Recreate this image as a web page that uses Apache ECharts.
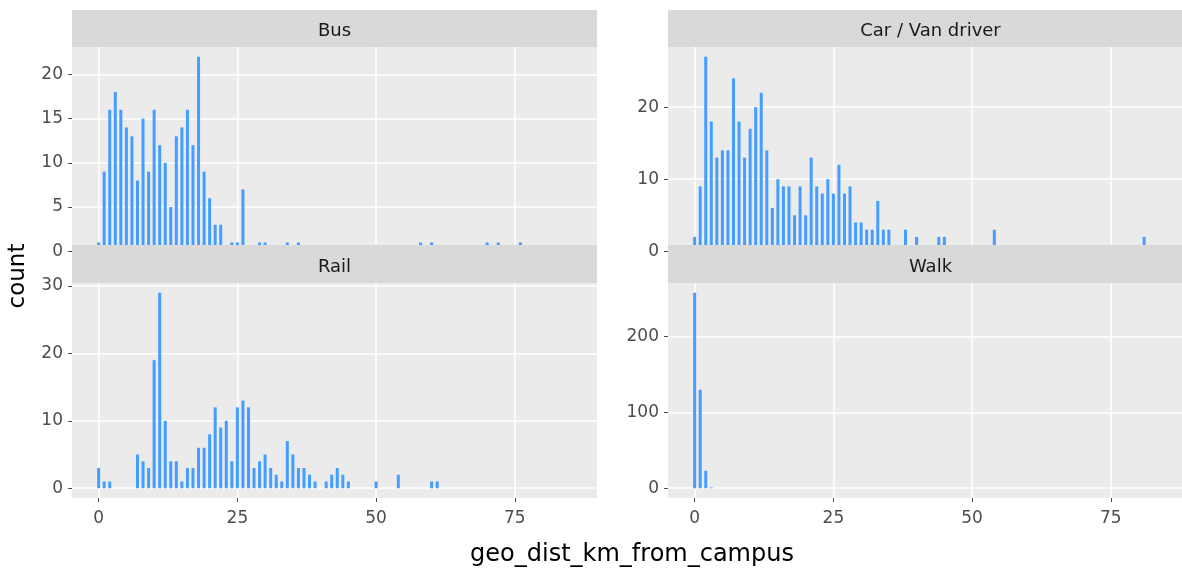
<!DOCTYPE html>
<html>
<head>
<meta charset="utf-8">
<script src="https://cdn.jsdelivr.net/npm/echarts@6/dist/echarts.min.js"></script>
<style>
  html, body { margin: 0; padding: 0; background: #fff; }
  #main { width: 1182px; height: 572px; }
</style>
</head>
<body>
<div id="main"></div>
<script>
// histogram of distance from campus, bin width 1 km, one panel per travel mode
const busBins   = [0,1,2,3,4,5,6,7,8,9,10,11,12,13,14,15,16,17,18,19,20,21,22,24,25,26,29,30,34,36,58,60,70,72,76];
const busCounts = [1,9,16,18,16,14,13,8,15,9,16,12,10,5,13,14,16,12,22,9,6,3,3,1,1,7,1,1,1,1,1,1,1,1,1];

const carBins   = [0,1,2,3,4,5,6,7,8,9,10,11,12,13,14,15,16,17,18,19,20,21,22,23,24,25,26,27,28,29,30,31,32,33,34,35,38,40,44,45,54,81];
const carCounts = [2,9,27,18,13,14,14,24,18,13,17,20,22,14,6,10,9,9,5,9,5,13,9,8,10,8,12,8,9,4,4,3,3,7,3,3,3,2,2,2,3,2];

const railBins   = [0,1,2,7,8,9,10,11,12,13,14,15,16,17,18,19,20,21,22,23,24,25,26,27,28,29,30,31,32,33,34,35,36,37,38,39,41,42,43,44,45,50,54,60,61];
const railCounts = [3,1,1,5,4,3,19,29,10,4,4,1,3,3,6,6,8,12,9,10,4,12,13,12,3,4,5,3,2,1,7,5,3,3,2,1,1,2,3,2,1,1,2,1,1];

const walkBins   = [0,1,2,3];
const walkCounts = [258,130,23,1];

const panelNames = ['Bus', 'Car / Van driver', 'Rail', 'Walk'];
const xTicks = [0, 25, 50, 75];
const busTicks = [0, 5, 10, 15, 20];
const carTicks = [0, 10, 20];
const railTicks = [0, 10, 20, 30];
const walkTicks = [0, 100, 200];

const panels = [
  { bins: busBins, counts: busCounts, ticks: busTicks },
  { bins: carBins, counts: carCounts, ticks: carTicks },
  { bins: railBins, counts: railCounts, ticks: railTicks },
  { bins: walkBins, counts: walkCounts, ticks: walkTicks }
];

const font = 'DejaVu Sans, Verdana, sans-serif';
const gridBoxes = [
  { left: 72,  top: 47,  width: 525, height: 214 },
  { left: 668, top: 47,  width: 525, height: 214 },
  { left: 72,  top: 283, width: 525, height: 215 },
  { left: 668, top: 283, width: 525, height: 215 }
];

const grid = [], xAxis = [], yAxis = [], series = [];
panels.forEach(function (p, i) {
  const g = gridBoxes[i];
  grid.push({
    left: g.left, top: g.top, width: g.width, height: g.height,
    show: true, backgroundColor: '#ebebeb', borderWidth: 0,
    containLabel: false, outerBoundsMode: 'none'
  });
  const bottomRow = i >= 2;
  xAxis.push({
    type: 'value', gridIndex: i, min: -4.8, max: 89.8,
    axisLine: { show: false, onZero: false },
    axisTick: { show: bottomRow, length: 4, customValues: xTicks, lineStyle: { color: '#4d4d4d' } },
    axisLabel: { show: bottomRow, customValues: xTicks, margin: 12, fontSize: 17, color: '#4d4d4d', fontFamily: font },
    splitLine: { show: true, lineStyle: { color: '#fff', width: 1.6 } }
  });
  const top = Math.max.apply(null, p.counts);
  yAxis.push({
    type: 'value', gridIndex: i, min: -top * 0.05, max: top * 1.05,
    axisLine: { show: false, onZero: false },
    axisTick: { show: true, length: 4, customValues: p.ticks, lineStyle: { color: '#4d4d4d' } },
    axisLabel: { customValues: p.ticks, margin: 9, fontSize: 17, color: '#4d4d4d', fontFamily: font },
    splitLine: { show: true, lineStyle: { color: '#fff', width: 1.6 } }
  });
  series.push({
    type: 'bar', xAxisIndex: i, yAxisIndex: i,
    barWidth: 3,
    itemStyle: { color: '#449eff' },
    data: p.bins.map(function (b, j) { return [b, p.counts[j]]; })
  });
});

// facet strips drawn over the panels
const graphic = [];
gridBoxes.forEach(function (g, i) {
  const stripTop = i < 2 ? 10 : 245;
  const stripH = i < 2 ? 37 : 38;
  graphic.push({
    type: 'rect', z: 100,
    shape: { x: g.left, y: stripTop, width: g.width, height: stripH },
    style: { fill: '#d9d9d9' }
  });
  graphic.push({
    type: 'text', z: 101,
    x: g.left + g.width / 2, y: stripTop + stripH / 2 + 3,
    style: {
      text: panelNames[i], fontSize: 18, fontFamily: font, fill: '#1a1a1a',
      textAlign: 'center', textVerticalAlign: 'middle'
    }
  });
});
graphic.push({
  type: 'text', z: 101, x: 632, y: 555,
  style: { text: 'geo_dist_km_from_campus', fontSize: 24, fontFamily: font, fill: '#000',
           textAlign: 'center', textVerticalAlign: 'middle' }
});
graphic.push({
  type: 'text', z: 101, x: 18, y: 276, rotation: Math.PI / 2,
  style: { text: 'count', fontSize: 23, fontFamily: font, fill: '#000',
           textAlign: 'center', textVerticalAlign: 'middle' }
});

const chart = echarts.init(document.getElementById('main'));
chart.setOption({
  animation: false,
  backgroundColor: '#fff',
  grid: grid,
  xAxis: xAxis,
  yAxis: yAxis,
  series: series,
  graphic: graphic
});
</script>
</body>
</html>
